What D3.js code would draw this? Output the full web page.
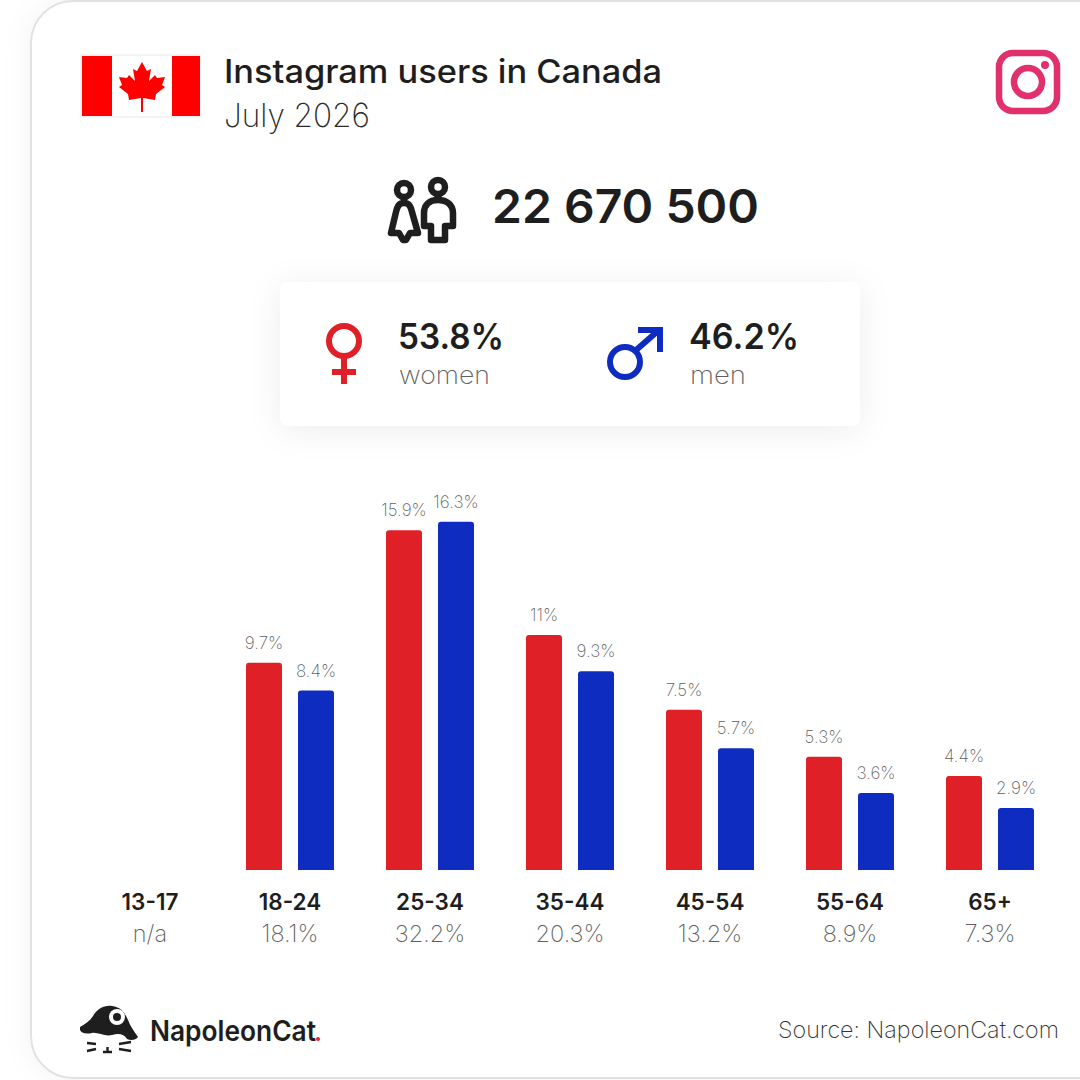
<!DOCTYPE html>
<html>
<head>
<meta charset="utf-8">
<style>
html,body{margin:0;padding:0;background:#fff;width:1080px;height:1080px;overflow:hidden}
svg{display:block}
text{font-family:Inter,"Open Sans",sans-serif}
</style>
<script src="https://cdn.jsdelivr.net/npm/d3@7/dist/d3.min.js"></script>
</head>
<body>
<svg id="chart" width="1080" height="1080"></svg>
<script>
const ageGroups = ["13-17","18-24","25-34","35-44","45-54","55-64","65+"];
const womenValues = [null,9.7,15.9,11,7.5,5.3,4.4];
const menValues = [null,8.4,16.3,9.3,5.7,3.6,2.9];
const totalShares = ["n/a","18.1%","32.2%","20.3%","13.2%","8.9%","7.3%"];
const seriesNames = ["women","men"];
const seriesColors = ["#df2027","#0e2cc0"];
const genderShares = ["53.8%","46.2%"];
const totalUsers = "22 670 500";

const svg = d3.select("#chart");
const ink = "#1e1e1e", soft = "#5f5f5f";

const defs = svg.append("defs");
const f1 = defs.append("filter").attr("id","cardShadow").attr("x","-10%").attr("y","-10%").attr("width","120%").attr("height","120%");
f1.append("feDropShadow").attr("dx",0).attr("dy",0).attr("stdDeviation",14).attr("flood-color","#000").attr("flood-opacity",0.05);
const f2 = defs.append("filter").attr("id","panelShadow").attr("x","-20%").attr("y","-40%").attr("width","140%").attr("height","180%");
f2.append("feDropShadow").attr("dx",0).attr("dy",4).attr("stdDeviation",16).attr("flood-color","#000").attr("flood-opacity",0.07);

function label(g,x,y,str,size,weight,fill,len,anchor){
  const t = g.append("text").attr("x",x).attr("y",y).text(str)
    .attr("font-size",size).attr("font-weight",weight).attr("fill",fill)
    .attr("text-anchor",anchor||"start");
  if(len) t.attr("textLength",len).attr("lengthAdjust","spacingAndGlyphs");
  return t;
}

// card
svg.append("rect").attr("x",31).attr("y",1).attr("width",1120).attr("height",1077).attr("rx",42)
  .attr("fill","#fff").attr("stroke","#e2e2e2").attr("stroke-width",2).attr("filter","url(#cardShadow)");

// flag
const flag = svg.append("g");
flag.append("rect").attr("x",81).attr("y",55).attr("width",119).attr("height",62).attr("fill","#fff").attr("stroke","#f3f3f3").attr("stroke-width",2);
flag.append("rect").attr("x",82).attr("y",56).attr("width",30).attr("height",60).attr("fill","#f00");
flag.append("rect").attr("x",172).attr("y",56).attr("width",28).attr("height",60).attr("fill","#f00");
flag.append("path").attr("fill","#f00")
  .attr("d","M142 62 L147 71 L151 69 L149 81 L155 75 L157 78 L165 77 L162 85 L165 87 L156 94 L155 100 L143 98 L143 112 L141 112 L141 98 L129 100 L128 94 L119 87 L122 85 L119 77 L127 78 L129 75 L135 81 L133 69 L137 71 Z");

// header
label(svg,224,83,"Instagram users in Canada",32,550,ink,438);
label(svg,224,127,"July 2026",33,200,"#2a2a2a",146);

// instagram icon
const ig = svg.append("g").attr("fill","none").attr("stroke","#e1306c").attr("stroke-width",6.5);
ig.append("rect").attr("x",999).attr("y",53).attr("width",58).attr("height",58).attr("rx",14);
ig.append("circle").attr("cx",1028).attr("cy",82).attr("r",14);
svg.append("circle").attr("cx",1045).attr("cy",65).attr("r",4).attr("fill","#e1306c");

// people icon
const ppl = svg.append("g").attr("fill","none").attr("stroke",ink).attr("stroke-width",6.5).attr("stroke-linejoin","round").attr("stroke-linecap","round");
ppl.append("circle").attr("cx",404).attr("cy",190).attr("r",7);
ppl.append("circle").attr("cx",438).attr("cy",187).attr("r",7);
ppl.append("path").attr("d","M404 203 C398 203 397 208 396 212 L391 233 L399 233 L403 240 L406 240 L410 233 L418 233 L412 212 C411 208 410 203 404 203 Z");
ppl.append("path").attr("d","M438 200 C429 200 424 205 424 213 L424 226 L431 226 L431 240 L445 240 L445 226 L453 226 L453 213 C453 205 447 200 438 200 Z");
label(svg,492,223,totalUsers,47,600,ink,267);

// gender panel
svg.append("rect").attr("x",280).attr("y",282).attr("width",580).attr("height",144).attr("rx",8)
  .attr("fill","#fff").attr("filter","url(#panelShadow)");
const fem = svg.append("g").attr("fill","none").attr("stroke",seriesColors[0]).attr("stroke-width",6);
fem.append("circle").attr("cx",344).attr("cy",341).attr("r",15);
fem.append("path").attr("d","M344 356 L344 384 M332 372 L356 372");
const mal = svg.append("g").attr("fill","none").attr("stroke",seriesColors[1]).attr("stroke-width",6);
mal.append("circle").attr("cx",625).attr("cy",362).attr("r",15);
mal.append("path").attr("d","M635 351 L659 330");
svg.append("path").attr("fill",seriesColors[1]).attr("d","M638 327 L663 327 L663 352 L657 352 L657 333 L638 333 Z");
label(svg,398,349,genderShares[0],35,600,ink,106);
label(svg,689,349,genderShares[1],35,600,ink,110);
label(svg,399,384,seriesNames[0],25,200,soft,91);
label(svg,690,384,seriesNames[1],25,200,soft,56);

// chart
const x = d3.scaleBand().domain(ageGroups).range([80,1060]);
const sub = d3.scaleBand().domain(seriesNames).range([-44,44]).paddingInner(16/52);
const y = d3.scaleLinear().domain([0,16.3]).range([870,521.7]);

const rows = seriesNames.flatMap((s,si)=>ageGroups.map((a,i)=>({
  age:a, series:s, color:seriesColors[si], value:(si===0?womenValues:menValues)[i]
}))).filter(d=>d.value!==null);

const topRounded = (px,py,w,h,r)=>`M${px} ${py+h}V${py+r}Q${px} ${py} ${px+r} ${py}H${px+w-r}Q${px+w} ${py} ${px+w} ${py+r}V${py+h}Z`;
const barX = d=>x(d.age)+x.bandwidth()/2+sub(d.series);
svg.append("g").selectAll("path").data(rows).join("path")
  .attr("fill",d=>d.color)
  .attr("d",d=>topRounded(barX(d),y(d.value),sub.bandwidth(),y(0)-y(d.value),3));
svg.append("g").selectAll("text").data(rows).join("text")
  .attr("x",d=>barX(d)+sub.bandwidth()/2)
  .attr("y",d=>y(d.value)-14)
  .attr("text-anchor","middle").attr("font-size",17).attr("font-weight",200).attr("fill",soft)
  .text(d=>d.value+"%");

const axis = d3.axisBottom(x).tickSize(0).tickPadding(0);
const axG = svg.append("g").attr("transform","translate(0,894)").call(axis);
axG.select(".domain").remove();
axG.selectAll("text").attr("font-size",22.5).attr("font-weight",600).attr("fill",ink).attr("font-family","Inter").attr("dy","0.71em");
svg.append("g").selectAll("text").data(totalShares).join("text")
  .attr("x",(d,i)=>x(ageGroups[i])+x.bandwidth()/2)
  .attr("y",942).attr("text-anchor","middle").attr("font-size",23.5).attr("font-weight",200).attr("fill",soft)
  .text(d=>d);

// logo
const logo = svg.append("g");
logo.append("path").attr("fill",ink).attr("d","M80 1027 C85 1024 90 1021 93 1016 C97 1009 104 1005 112 1006 C121 1007 125 1013 128 1020 C130 1026 134 1031 138 1037 C136 1040 131 1041 127 1039 C124 1034 119 1033 112 1035 C105 1037 98 1032 92 1033 C87 1034 82 1034 80 1030 Z");
logo.append("circle").attr("cx",117).attr("cy",1017).attr("r",8).attr("fill","#fff");
logo.append("circle").attr("cx",117).attr("cy",1017).attr("r",4).attr("fill",ink);
logo.append("path").attr("fill","none").attr("stroke",ink).attr("stroke-width",2.4)
  .attr("d","M87 1043 L96 1044 M87 1051 L96 1049 M131 1042 L119 1044 M131 1051 L119 1049 M103 1052 L112 1052 M107.500 1047 L107.500 1052");
label(logo,150,1041,"NapoleonCat",28,600,ink,166);
logo.append("circle").attr("cx",318).attr("cy",1039).attr("r",2).attr("fill","#e3222b");
label(svg,778,1038,"Source: NapoleonCat.com",23,200,"#333",281);
</script>
</body>
</html>
